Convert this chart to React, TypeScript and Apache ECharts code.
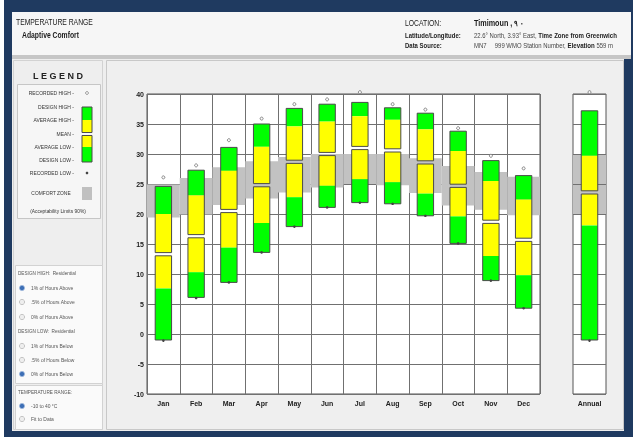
import React, { useEffect, useRef } from 'react';
import * as echarts from 'echarts';

const months = ['Jan', 'Feb', 'Mar', 'Apr', 'May', 'Jun', 'Jul', 'Aug', 'Sep', 'Oct', 'Nov', 'Dec'];
const recordedHigh = [26.1, 28.1, 32.3, 35.9, 38.3, 39.1, 40.3, 38.3, 37.4, 34.3, 29.7, 27.6];
const designHigh = [24.6, 27.3, 31.1, 35.0, 37.6, 38.3, 38.6, 37.7, 36.8, 33.8, 28.9, 26.4];
const averageHigh = [20.0, 23.1, 27.2, 31.2, 34.6, 35.4, 36.3, 35.7, 34.1, 30.5, 25.5, 22.4];
const meanTemp = [13.3, 16.3, 20.5, 24.8, 28.7, 30.0, 31.0, 30.6, 28.6, 24.7, 18.7, 15.7];
const averageLow = [7.6, 10.3, 14.4, 18.5, 22.8, 24.7, 25.8, 25.3, 23.4, 19.6, 13.0, 9.8];
const designLow = [-1.0, 6.1, 8.6, 13.6, 17.9, 21.1, 21.9, 21.7, 19.7, 15.1, 8.9, 4.3];
const recordedLow = [-1.1, 6.0, 8.6, 13.6, 17.9, 21.1, 21.9, 21.7, 19.7, 15.1, 8.9, 4.3];
const comfortLow = [19.4, 19.9, 21.5, 22.6, 23.6, 24.4, 25.0, 24.8, 23.5, 21.4, 20.7, 19.8];
const comfortHigh = [24.9, 26.0, 27.8, 28.8, 29.5, 30.0, 30.0, 30.0, 29.3, 28.0, 27.0, 26.2];

const annualCategory = ['Annual'];
const annualRecordedHigh = [40.3];
const annualDesignHigh = [37.2];
const annualAverageHigh = [29.7];
const annualMean = [23.6];
const annualAverageLow = [18.1];
const annualDesignLow = [-1.0];
const annualRecordedLow = [-1.1];
const annualComfortLow = [20];
const annualComfortHigh = [30];

const yMin = -10;
const yMax = 40;
const yStep = 5;

const FONT = '"Liberation Sans", Arial, sans-serif';
const GREEN = '#00ff00';
const YELLOW = '#ffff00';
const COMFORT = '#c2c2c2';
const GRID = '#707070';
const NAVY = '#1f3a60';

function renderBox(params: any, api: any) {
  const i = api.value(0);
  const cx = api.coord([i, 0])[0];
  const bw = api.size([1, 0])[0] * 0.5;
  const y = (d: number) => api.coord([i, api.value(d)])[1];
  const yRH = y(1), yDH = y(2), yAH = y(3), yM = y(4), yAL = y(5), yDL = y(6), yRL = y(7);
  const x0 = cx - bw / 2;
  const g = 1.6;
  const r = (yy: number, h: number, fill: string) => ({
    type: 'rect',
    shape: { x: x0, y: yy, width: bw, height: h },
    style: { fill },
  });
  const o = (yy: number, h: number) => ({
    type: 'rect',
    shape: { x: x0, y: yy, width: bw, height: h },
    style: { fill: 'none', stroke: '#4a4a4a', lineWidth: 1 },
  });
  return {
    type: 'group',
    children: [
      r(yDH, yAH - yDH, GREEN),
      r(yAH, yM - g - yAH, YELLOW),
      r(yM + g, yAL - yM - g, YELLOW),
      r(yAL, yDL - yAL, GREEN),
      o(yDH, yM - g - yDH),
      o(yM + g, yDL - yM - g),
      {
        type: 'circle',
        shape: { cx, cy: yRH, r: 1.5 },
        style: { fill: '#ffffff', stroke: '#6a6a6a', lineWidth: 0.8 },
      },
      {
        type: 'circle',
        shape: { cx, cy: yRL, r: 1.3 },
        style: { fill: '#444444' },
      },
    ],
  };
}

function renderComfort(params: any, api: any) {
  const i = api.value(0);
  const cx = api.coord([i, 0])[0];
  const w = api.size([1, 0])[0];
  const yLo = api.coord([i, api.value(1)])[1];
  const yHi = api.coord([i, api.value(2)])[1];
  return {
    type: 'rect',
    shape: { x: cx - w / 2, y: yHi, width: w, height: yLo - yHi },
    style: { fill: COMFORT },
  };
}

function renderAnnualComfort(params: any, api: any) {
  const i = api.value(0);
  const cx = api.coord([i, 0])[0];
  const w = api.size([1, 0])[0];
  const lo = api.value(1);
  const hi = api.value(2);
  const yLo = api.coord([i, lo])[1];
  const yHi = api.coord([i, hi])[1];
  const children: any[] = [
    { type: 'rect', shape: { x: cx - w / 2, y: yHi, width: w, height: yLo - yHi }, style: { fill: COMFORT } },
  ];
  for (let v = Math.ceil(lo / yStep) * yStep; v <= hi; v += yStep) {
    const yy = Math.round(api.coord([i, v])[1]) + 0.5;
    children.push({
      type: 'line',
      shape: { x1: cx - w / 2, y1: yy, x2: cx + w / 2, y2: yy },
      style: { stroke: GRID, lineWidth: 1 },
    });
  }
  return { type: 'group', children };
}

function txt(text: string, x: number, y: number, o: any = {}) {
  return {
    type: 'text',
    x,
    y,
    z: 20,
    scaleX: o.sx ?? 0.82,
    style: {
      text,
      fontSize: o.size ?? 6,
      fontFamily: FONT,
      fontWeight: o.bold ? 'bold' : 'normal',
      fill: o.color ?? '#333333',
      align: o.align ?? 'left',
      verticalAlign: 'middle',
      rich: o.rich,
    },
  };
}

function box(x: number, y: number, w: number, h: number, fill: string, stroke?: string, z = -20) {
  return {
    type: 'rect',
    z,
    shape: { x, y, width: w, height: h },
    style: { fill, stroke: stroke ?? 'none', lineWidth: 1 },
  };
}

function radio(x: number, y: number, on: boolean) {
  return {
    type: 'circle',
    z: 20,
    shape: { cx: x, cy: y, r: 2.6 },
    style: on
      ? { fill: '#3d6fb6', stroke: '#9fb8dc', lineWidth: 1 }
      : { fill: '#eeeeee', stroke: '#c4c4c4', lineWidth: 1 },
  };
}

export default function App() {
  const ref = useRef<HTMLDivElement>(null);
  useEffect(() => {
    const chart = echarts.init(ref.current!, null, { renderer: 'svg' });
    const boxData = months.map((_, i) => [
      i, recordedHigh[i], designHigh[i], averageHigh[i], meanTemp[i], averageLow[i], designLow[i], recordedLow[i],
    ]);
    const comfortData = months.map((_, i) => [i, comfortLow[i], comfortHigh[i]]);
    const annualBox = annualCategory.map((_, i) => [
      i, annualRecordedHigh[i], annualDesignHigh[i], annualAverageHigh[i], annualMean[i],
      annualAverageLow[i], annualDesignLow[i], annualRecordedLow[i],
    ]);
    const annualComfortData = annualCategory.map((_, i) => [i, annualComfortLow[i], annualComfortHigh[i]]);

    const legendRows = [
      ['RECORDED HIGH -', 93],
      ['DESIGN HIGH -', 107],
      ['AVERAGE HIGH -', 120],
      ['MEAN -', 134],
      ['AVERAGE LOW -', 147],
      ['DESIGN LOW -', 160],
      ['RECORDED LOW -', 173],
    ] as [string, number][];

    const options: [string, number, boolean][] = [
      ['1% of Hours Above', 288, true],
      ['.5% of Hours Above', 302, false],
      ['0% of Hours Above', 317, false],
      ['1% of Hours Below', 346, false],
      ['.5% of Hours Below', 360, false],
      ['0% of Hours Below', 374, true],
      ['-10 to 40 °C', 406, true],
      ['Fit to Data', 419, false],
    ];

    const richHdr = {
      n: { fontSize: 7, fontFamily: FONT, fill: '#444' },
      b: { fontSize: 7.2, fontFamily: FONT, fontWeight: 'bold', fill: '#222' },
    };

    const graphics: any[] = [
      box(0, 0, 633, 437, '#ffffff', undefined, -40),
      box(4, 0, 629, 437, NAVY, undefined, -39),
      box(12, 12, 619, 44, '#f6f6f6', undefined, -38),
      box(12, 55, 619, 4, '#c6c6c6', undefined, -37),
      box(12, 59, 612, 372, '#eeeeee', undefined, -37),
      box(13.5, 60.5, 89, 369, '#eeeeee', '#d2d2d2', -36),
      box(17.5, 84.5, 83, 134, '#f6f6f6', '#c6c6c6', -35),
      box(15.5, 265.5, 87, 118, '#fafafa', '#d2d2d2', -35),
      box(15.5, 385.5, 87, 44, '#fafafa', '#d2d2d2', -35),
      box(106.5, 60.5, 517, 369, '#efefef', '#c8c8c8', -36),
      // header
      txt('TEMPERATURE RANGE', 16, 22, { size: 8.5, color: '#1a1a1a', sx: 0.8 }),
      txt('Adaptive Comfort', 22, 35, { size: 8.5, bold: true, color: '#1a1a1a', sx: 0.8 }),
      txt('LOCATION:', 405, 23, { size: 8.5, color: '#1a1a1a', sx: 0.8 }),
      txt('Timimoun , ٠ ٩', 474, 23, { size: 8.5, bold: true, color: '#1a1a1a', sx: 0.85 }),
      txt('Latitude/Longitude:', 405, 35, { size: 6.8, bold: true, color: '#222', sx: 0.88 }),
      txt('{n|22.6° North, 3.93° East, }{b|Time Zone from Greenwich}', 474, 35, { rich: richHdr, sx: 0.85 }),
      txt('Data Source:', 405, 45, { size: 6.8, bold: true, color: '#222', sx: 0.88 }),
      txt('{n|MN7     999 WMO Station Number, }{b|Elevation }{n|559 m}', 474, 45, { rich: richHdr, sx: 0.85 }),
      // legend
      txt('L E G E N D', 58, 76, { size: 9, bold: true, color: '#222', align: 'center', sx: 1 }),
      ...legendRows.map(([t, y]) => txt(t, 74, y, { size: 5.8, align: 'right', color: '#333', sx: 0.86 })),
      box(82, 107, 10, 13, GREEN, undefined, 20),
      box(82, 120, 10, 12.5, YELLOW, undefined, 20),
      box(82, 135.5, 10, 11.5, YELLOW, undefined, 20),
      box(82, 147, 10, 15, GREEN, undefined, 20),
      box(82, 107, 10, 25.5, 'none', '#4a4a4a', 21),
      box(82, 135.5, 10, 26.5, 'none', '#4a4a4a', 21),
      { type: 'circle', z: 21, shape: { cx: 87, cy: 93, r: 1.4 }, style: { fill: '#fff', stroke: '#777', lineWidth: 0.8 } },
      { type: 'circle', z: 21, shape: { cx: 87, cy: 173, r: 1.3 }, style: { fill: '#444' } },
      txt('COMFORT ZONE', 51, 193, { size: 5.8, align: 'center', color: '#333', sx: 0.84 }),
      box(82, 187, 10, 13, '#c0c0c0', undefined, 20),
      txt('(Acceptability Limits 90%)', 58, 211, { size: 5.8, align: 'center', color: '#333', sx: 0.84 }),
      // options
      txt('DESIGN HIGH:  Residential', 18, 273, { size: 5.5, color: '#555', sx: 0.85 }),
      txt('DESIGN LOW:  Residential', 18, 331, { size: 5.5, color: '#555', sx: 0.85 }),
      txt('TEMPERATURE RANGE:', 18, 392, { size: 5.5, color: '#555', sx: 0.85 }),
      ...options.flatMap(([t, y, on]) => [radio(22, y, on), txt(t, 31, y, { size: 5.5, color: '#555', sx: 0.9 })]),
    ];

    const axisLabelStyle = { fontSize: 7, fontFamily: FONT, fontWeight: 'bold', color: '#222' };

    chart.setOption({
      animation: false,
      backgroundColor: 'transparent',
      graphic: { elements: graphics },
      grid: [
        { left: 147, top: 94, width: 393, height: 300, show: true, backgroundColor: '#ffffff', borderColor: '#555555', borderWidth: 1, z: 0 },
        { left: 573, top: 94, width: 33, height: 300, show: true, backgroundColor: '#ffffff', borderColor: '#555555', borderWidth: 1, z: 0 },
      ],
      xAxis: [
        {
          type: 'category', gridIndex: 0, data: months, boundaryGap: true,
          axisLine: { show: false }, axisTick: { show: false },
          axisLabel: { ...axisLabelStyle, margin: 6, interval: 0 },
          splitLine: { show: true, interval: 0, lineStyle: { color: GRID, width: 1 } },
        },
        {
          type: 'category', gridIndex: 1, data: annualCategory, boundaryGap: true,
          axisLine: { show: false }, axisTick: { show: false },
          axisLabel: { ...axisLabelStyle, margin: 6 },
          splitLine: { show: false },
        },
      ],
      yAxis: [
        {
          type: 'value', gridIndex: 0, min: yMin, max: yMax, interval: yStep,
          axisLine: { show: false }, axisTick: { show: false },
          axisLabel: { ...axisLabelStyle, margin: 3 },
          splitLine: { show: true, lineStyle: { color: GRID, width: 1 } },
        },
        {
          type: 'value', gridIndex: 1, min: yMin, max: yMax, interval: yStep,
          axisLine: { show: false }, axisTick: { show: false },
          axisLabel: { show: false },
          splitLine: { show: true, lineStyle: { color: GRID, width: 1 } },
        },
      ],
      series: [
        {
          type: 'custom', name: 'Comfort Zone', xAxisIndex: 0, yAxisIndex: 0, data: comfortData,
          renderItem: renderComfort, encode: { x: 0, y: [1, 2] }, clip: false, silent: true,
        },
        {
          type: 'custom', name: 'Temperature', xAxisIndex: 0, yAxisIndex: 0, data: boxData,
          renderItem: renderBox, encode: { x: 0, y: [1, 2, 3, 4, 5, 6, 7] }, clip: false, silent: true,
        },
        {
          type: 'custom', name: 'Annual Comfort', xAxisIndex: 1, yAxisIndex: 1, data: annualComfortData,
          renderItem: renderAnnualComfort, encode: { x: 0, y: [1, 2] }, clip: false, silent: true,
        },
        {
          type: 'custom', name: 'Annual', xAxisIndex: 1, yAxisIndex: 1, data: annualBox,
          renderItem: renderBox, encode: { x: 0, y: [1, 2, 3, 4, 5, 6, 7] }, clip: false, silent: true,
        },
      ],
    });
    return () => chart.dispose();
  }, []);
  return (
    <div
      ref={ref}
      style={{ position: 'fixed', left: 0, top: 0, width: 633, height: 437 }}
    />
  );
}
